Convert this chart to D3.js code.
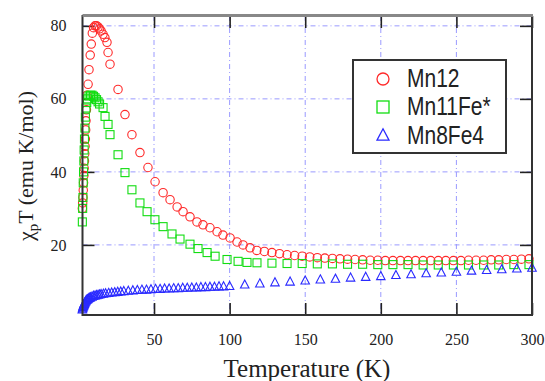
<!DOCTYPE html>
<html><head><meta charset="utf-8">
<script src="https://cdn.jsdelivr.net/npm/d3@7"></script>
<style>body{margin:0;background:#fff}svg{display:block}</style>
</head><body>
<svg id="c" width="545" height="381"></svg>
<script>
// ---- data ----
const seriesNames = ["Mn12", "Mn11Fe*", "Mn8Fe4"];
const xTicks = [50, 100, 150, 200, 250, 300];
const yTicks = [20, 40, 60, 80];

const mn12T = [2.6,2.8,3.0,3.2,3.4,3.6,3.8,4.0,4.2,4.4,4.6,4.8,5.0,
  5.3,5.7,6.4,7.0,7.8,8.5,9.2,10,11,12,13,14,15,
  16.3,17.5,18.9,19.6,20.9,
  26.2,30.8,35.4,40.7,46,
  50.7,56,60.6,65.3,69.2,73.8,78.4,82.4,87,91.7,95.6,100.3,104.9,108.9,113.5,118,
  123,128,133,138,143,148,153,158,163,168,173,178,183,188,193,198,203,208,213,218,
  223,228,233,238,243,248,253,258,263,268,273,278,283,288,293,298];
const mn12V = [30,31.5,33,35,37,39,41,43,45,47,49,51.5,54,
  57,61,64,68,72,75,78,79.5,80,80,79.7,79.2,78.6,
  77.7,76.8,75.5,72.7,69.5,
  62.6,55.7,50.2,45.3,41.2,
  37.3,34.3,32.4,30.4,29.1,27.7,26.3,25.5,24.7,23.6,22.7,21.9,20.8,20.0,19.2,18.5,
  18.2,17.9,17.6,17.3,17.1,16.9,16.7,16.5,16.4,16.3,16.2,16.1,16.0,15.9,15.8,15.8,15.7,15.7,15.7,15.7,
  15.7,15.7,15.7,15.7,15.7,15.7,15.7,15.8,15.8,15.8,15.9,15.9,16.0,16.0,16.1,16.2];

const mn11T = [2.6,2.8,3.0,3.2,3.4,3.6,3.8,4.0,4.3,4.6,5.0,5.5,6,7,8,9,10,11,12,13,14,
  16.3,17.6,19.6,20.9,26.2,30.8,35.4,40.7,45.4,50.6,56,61.9,67.2,73.8,79.1,85.1,90.4,98.3,105.6,111.5,118.1,
  128,138,148,158,168,178,188,198,208,218,228,238,248,258,268,278,288,298];
const mn11V = [26.3,30,33,37,40,43,46,49,52,55,57.5,59,60,60.8,61,61,60.7,60.3,59.8,59.2,58.6,
  57.6,55.2,53,50.2,44.7,39.8,35.1,31.5,29.1,26.9,25,23,21.6,20.2,19,17.9,16.9,16,15.5,15.2,15.1,
  15.0,14.9,14.9,14.8,14.8,14.7,14.7,14.6,14.6,14.6,14.5,14.5,14.5,14.5,14.5,14.5,14.6,14.6];

const mn8T = [2.6,2.8,3.0,3.2,3.4,3.6,3.8,4.0,
  4.3,4.6,5.0,5.5,6.0,6.5,7.0,7.5,8.0,
  9,10,11,12,13,14,15,16.5,18,
  20,22,24,26,28,30,
  33,36,39,42,45,48,51,54,57,60,63,66,69,72,75,78,81,84,87,90,93,96,100,
  110,120,130,140,150,160,170,180,190,200,210,220,230,240,250,260,270,280,290,300];
const mn8V = [2.2,2.5,2.8,3.1,3.3,3.5,3.7,3.9,
  4.1,4.3,4.6,4.8,5.0,5.1,5.3,5.4,5.5,
  5.7,5.9,6.0,6.1,6.2,6.3,6.4,6.5,6.6,
  6.7,6.8,6.9,7.0,7.1,7.2,
  7.3,7.4,7.5,7.6,7.6,7.7,7.8,7.8,7.9,7.9,8.0,8.0,8.1,8.1,8.2,8.2,8.3,8.3,8.4,8.4,8.5,8.5,8.6,
  9.0,9.3,9.6,9.8,10.1,10.4,10.6,10.9,11.1,11.3,11.6,11.8,12.1,12.3,12.5,12.8,13.0,13.2,13.4,13.6];

// ---- layout ----
const svg = d3.select("#c");
const L = 82.5, R = 532, T = 16, B = 315;
const x = d3.scaleLinear().domain([2.7, 300]).range([L, R]);
const y = d3.scaleLinear().domain([0.8, 82.7]).range([B, T]);

const gridC = "#9a9aff";
// grid
svg.append("g").selectAll("line").data(xTicks.filter(d => d < 300)).join("line")
  .attr("x1", d => x(d)).attr("x2", d => x(d)).attr("y1", T).attr("y2", B)
  .attr("stroke", gridC).attr("stroke-width", 1).attr("stroke-dasharray", "5,3,1,3");
svg.append("g").selectAll("line").data(yTicks).join("line")
  .attr("y1", d => y(d)).attr("y2", d => y(d)).attr("x1", L).attr("x2", R)
  .attr("stroke", gridC).attr("stroke-width", 1).attr("stroke-dasharray", "5,3,1,3");

// axes with inward ticks
const tk = 12;
const axB = svg.append("g").attr("transform", `translate(0,${B})`)
  .call(d3.axisBottom(x).tickValues(xTicks).tickSizeInner(-tk).tickSizeOuter(0).tickPadding(tk + 7));
const axT = svg.append("g").attr("transform", `translate(0,${T})`)
  .call(d3.axisTop(x).tickValues(xTicks).tickSizeInner(-tk).tickSizeOuter(0).tickFormat(""));
const axL = svg.append("g").attr("transform", `translate(${L},0)`)
  .call(d3.axisLeft(y).tickValues(yTicks).tickSizeInner(-tk).tickSizeOuter(0).tickPadding(tk + 4));
const axR = svg.append("g").attr("transform", `translate(${R},0)`)
  .call(d3.axisRight(y).tickValues(yTicks).tickSizeInner(-tk).tickSizeOuter(0).tickFormat(""));
[axB, axT, axL, axR].forEach(a => {
  a.select(".domain").remove();
  a.selectAll(".tick line").attr("stroke", "#222").attr("stroke-width", 1.6);
  a.selectAll("text").attr("font-family", "'Liberation Serif', serif").attr("font-size", 16).attr("fill", "#222");
});

// data markers
const red = "#ff2a2a", green = "#11dd11", blue = "#2a2aff";
const mk = svg.append("g").attr("fill", "none").attr("stroke-width", 1.1);
mk.append("g").selectAll("circle").data(mn12T.map((t, i) => [t, mn12V[i]])).join("circle")
  .attr("cx", d => x(d[0])).attr("cy", d => y(d[1])).attr("r", 4.2).attr("stroke", red);
mk.append("g").selectAll("rect").data(mn11T.map((t, i) => [t, mn11V[i]])).join("rect")
  .attr("x", d => x(d[0]) - 4).attr("y", d => y(d[1]) - 4).attr("width", 8).attr("height", 8).attr("stroke", green);
const tri = s => `M0,${-s*0.6}L${s/2},${s*0.35}L${-s/2},${s*0.35}Z`;
mk.append("g").selectAll("path").data(mn8T.map((t, i) => [t, mn8V[i]])).join("path")
  .attr("transform", d => `translate(${x(d[0])},${y(d[1])})`).attr("d", tri(8.5)).attr("stroke", blue);

// frame
svg.append("rect").attr("x", L).attr("y", T).attr("width", R - L).attr("height", B - T)
  .attr("fill", "none").attr("stroke", "#333").attr("stroke-width", 2);
svg.append("line").attr("x1", L).attr("x2", R + 1).attr("y1", T - 0.5).attr("y2", T - 0.5)
  .attr("stroke", "#888").attr("stroke-width", 3);

// legend
const lg = svg.append("g");
lg.append("rect").attr("x", 353).attr("y", 60).attr("width", 153).attr("height", 93)
  .attr("fill", "#fff").attr("stroke", "#333").attr("stroke-width", 2);
const ly = [79, 107, 136];
lg.append("circle").attr("cx", 383).attr("cy", ly[0]).attr("r", 6).attr("fill", "none").attr("stroke", red).attr("stroke-width", 1.3);
lg.append("rect").attr("x", 377).attr("y", ly[1] - 6).attr("width", 12).attr("height", 12).attr("fill", "none").attr("stroke", green).attr("stroke-width", 1.3);
lg.append("path").attr("transform", `translate(383,${ly[2]})`).attr("d", tri(12)).attr("fill", "none").attr("stroke", blue).attr("stroke-width", 1.3);
lg.selectAll("text").data(seriesNames).join("text")
  .attr("transform", (d, i) => `translate(407,${ly[i] + 8}) scale(1,1.2)`)
  .attr("font-family", "'Liberation Sans', Arial, sans-serif").attr("font-size", 21).attr("fill", "#222")
  .text(d => d);

// axis titles
svg.append("text").attr("x", 307).attr("y", 377).attr("text-anchor", "middle")
  .attr("font-family", "'Liberation Serif', serif").attr("font-size", 25).attr("fill", "#222")
  .text("Temperature (K)");
const yt = svg.append("text").attr("transform", "translate(33,166) rotate(-90)").attr("text-anchor", "middle")
  .attr("font-family", "'Liberation Serif', serif").attr("font-size", 22).attr("fill", "#222");
yt.append("tspan").text("χ");
yt.append("tspan").attr("font-size", 15).attr("dy", 5).text("p");
yt.append("tspan").attr("dy", -5).text("T (emu K/mol)");
</script>
</body></html>
